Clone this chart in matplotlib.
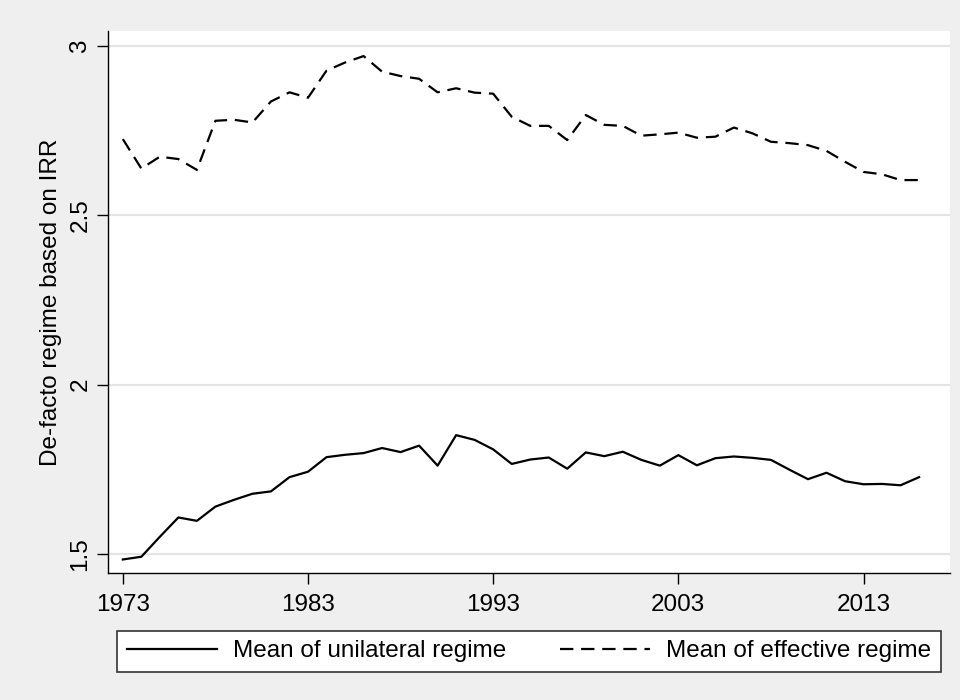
import numpy as np
import matplotlib.pyplot as plt

plt.rcParams["font.family"] = ["Liberation Sans", "DejaVu Sans"]

years = list(range(1973, 2017))

# mean of unilateral regime (solid)
unilateral = [
    1.484, 1.492, 1.551, 1.608, 1.598, 1.640, 1.660, 1.678, 1.685, 1.727,
    1.743, 1.786, 1.793, 1.798, 1.813, 1.801, 1.820, 1.761, 1.851, 1.837,
    1.809, 1.766, 1.779, 1.785, 1.752, 1.800, 1.789, 1.802, 1.778, 1.761,
    1.792, 1.762, 1.783, 1.788, 1.784, 1.778, 1.749, 1.721, 1.740, 1.715,
    1.706, 1.707, 1.703, 1.727,
]

# mean of effective regime (dashed)
effective = [
    2.725, 2.638, 2.673, 2.666, 2.634, 2.779, 2.782, 2.774, 2.836, 2.863,
    2.847, 2.927, 2.951, 2.970, 2.924, 2.911, 2.903, 2.863, 2.875, 2.862,
    2.859, 2.791, 2.764, 2.764, 2.722, 2.796, 2.767, 2.764, 2.735, 2.739,
    2.744, 2.729, 2.732, 2.759, 2.742, 2.717, 2.713, 2.707, 2.690, 2.658,
    2.628, 2.621, 2.604, 2.604,
]

xticks = [1973, 1983, 1993, 2003, 2013]
yticks = [1.5, 2, 2.5, 3]
ytick_labels = ["1.5", "2", "2.5", "3"]

FS = 17.5

fig = plt.figure(figsize=(9.6, 7), dpi=100, facecolor="#efefef")
ax = fig.add_axes([0.1125, 0.1814, 0.8771, 0.7743])
ax.set_facecolor("white")

for y in yticks:
    ax.axhline(y, color="#e4e4e4", linewidth=1.5, zorder=0)

ax.plot(years, unilateral, color="black", linewidth=1.6,
        label="Mean of unilateral regime")
ax.plot(years, effective, color="black", linewidth=1.6,
        linestyle=(0, (6, 3.5)), label="Mean of effective regime")

ax.set_xlim(1972.2, 2017.67)
ax.set_ylim(1.444, 3.044)
ax.set_xticks(xticks)
ax.set_xticklabels([str(x) for x in xticks])
ax.set_yticks(yticks)
ax.set_yticklabels(ytick_labels, rotation=90, va="center")
ax.tick_params(axis="both", direction="out", length=8, width=1,
               labelsize=FS, color="black")
ax.tick_params(axis="x", pad=7)
ax.tick_params(axis="y", pad=4)

for side in ["top", "right"]:
    ax.spines[side].set_visible(False)
for side in ["left", "bottom"]:
    ax.spines[side].set_linewidth(1)
    ax.spines[side].set_color("black")

ax.set_ylabel("De-facto regime based on IRR", fontsize=FS, labelpad=5)

# legend box spans the same width as in the original
leg = fig.legend(loc="center", bbox_to_anchor=(117 / 960, 0.0386, 824 / 960, 0.0614),
                 mode="expand", ncol=2, fontsize=FS, frameon=True,
                 fancybox=False, edgecolor="#333333", facecolor="white",
                 framealpha=1, handlelength=3.7, handletextpad=0.66,
                 borderpad=0.4, borderaxespad=0)
leg.get_frame().set_linewidth(1.2)

fig.savefig("out.png", dpi=100, facecolor=fig.get_facecolor())
